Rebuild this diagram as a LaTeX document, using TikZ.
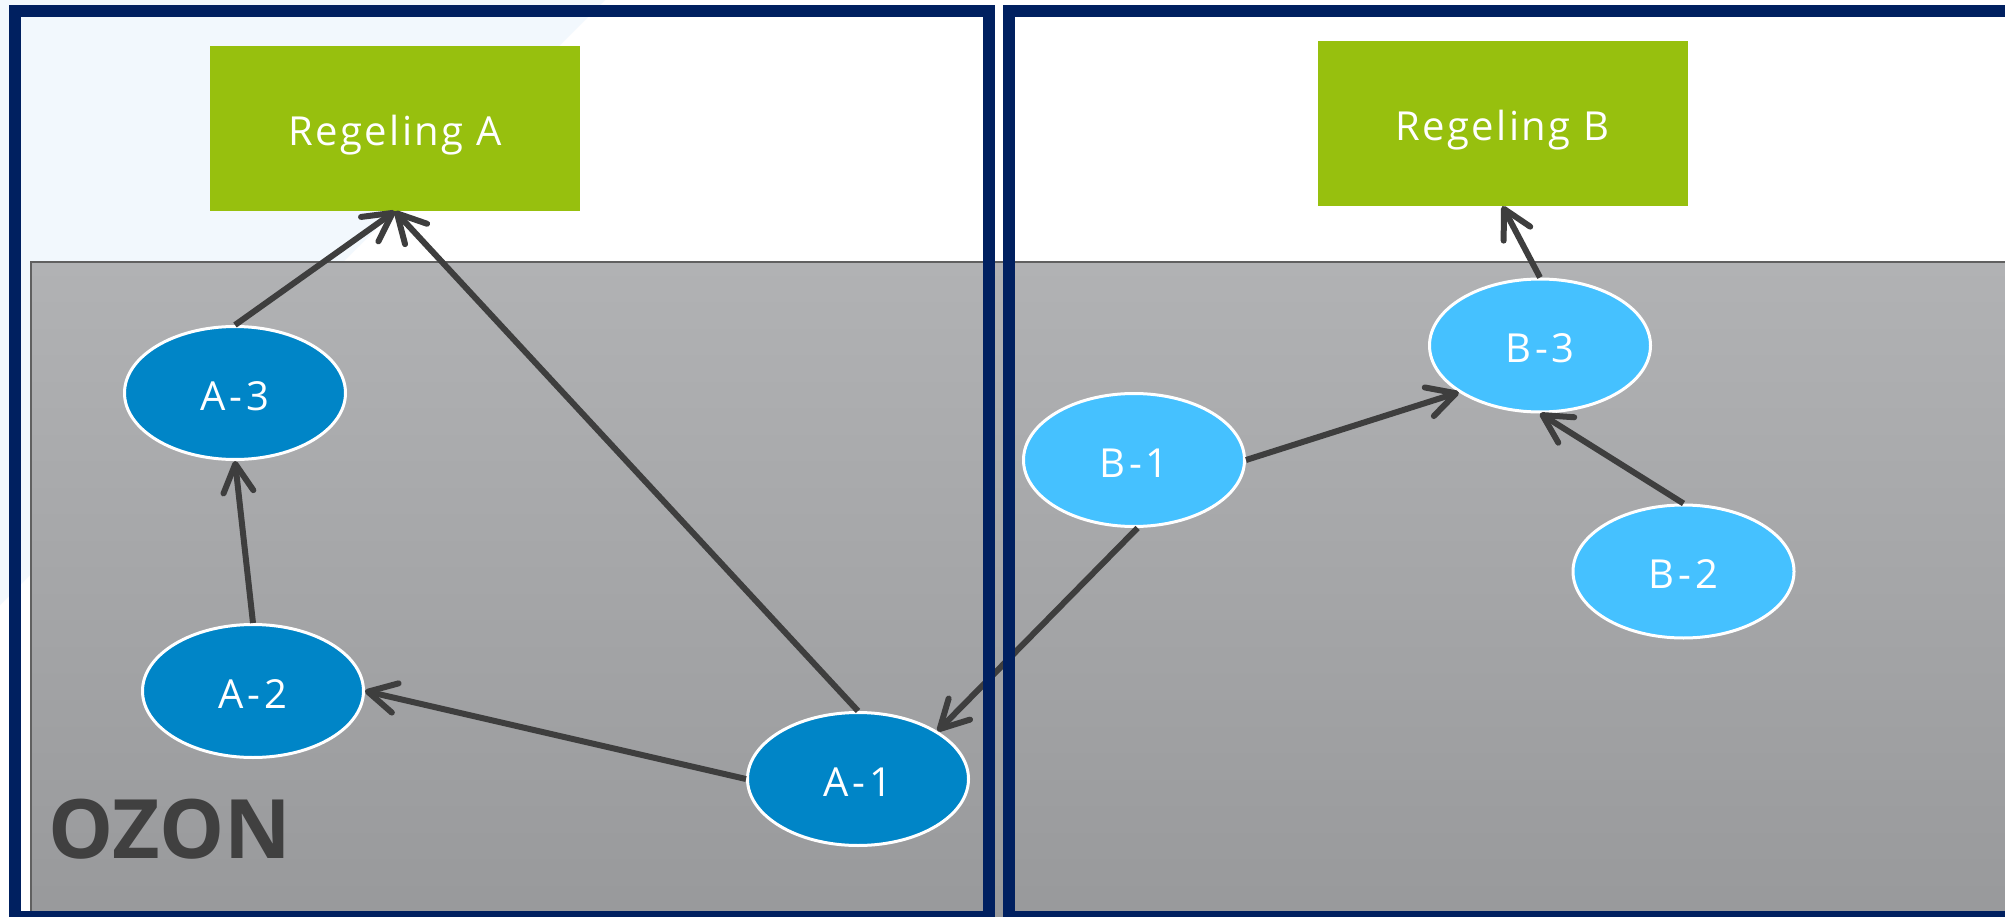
\documentclass[tikz,border=0pt]{standalone}
\usepackage{fontspec}
\setmainfont{Open Sans}
\newfontfamily\boxfont[LetterSpace=6]{Open Sans}
\newfontfamily\ellfont[LetterSpace=10]{Open Sans}
\usetikzlibrary{arrows.meta,shapes.geometric}
\definecolor{navy}{RGB}{0,32,96}
\definecolor{regelgreen}{RGB}{151,192,14}
\definecolor{darkblue}{RGB}{0,133,199}
\definecolor{lightblue}{RGB}{69,193,255}
\definecolor{arrowc}{RGB}{62,62,62}
\definecolor{graytop}{RGB}{177,178,180}
\definecolor{graybot}{RGB}{152,153,155}
\definecolor{tint}{RGB}{242,248,253}
\definecolor{ozonc}{RGB}{64,64,64}
\begin{document}
\begin{tikzpicture}[x=1pt,y=-1pt,
  regbox/.style={rectangle, fill=regelgreen, inner sep=0pt, minimum width=370pt, minimum height=165pt,
    text=white, font=\boxfont\fontsize{40}{48}\selectfont, text height=34pt, text depth=0pt},
  anode/.style={ellipse, fill=darkblue, draw=white, line width=3pt, inner sep=0pt,
    minimum width=221pt, minimum height=133pt, text=white, font=\ellfont\fontsize{40}{48}\selectfont,
    text height=34pt, text depth=0pt},
  bnode/.style={anode, fill=lightblue},
  arr/.style={draw=arrowc, line width=6pt, -{Straight Barb[length=28pt,width=30pt,round]}},
  frame/.style={draw=navy, line width=12pt}]
\useasboundingbox (0,0) rectangle (2005,917);
\clip (0,0) rectangle (2005,917);
\fill[white] (0,0) rectangle (2005,917);
\fill[tint] (0,0) -- (605,0) -- (0,605) -- cycle;
\shade[top color=graytop, bottom color=graybot] (31,262) rectangle (2010,925);
\draw[gray!75!black, line width=1.5pt] (31,925) -- (31,262) -- (2010,262);
% rules
\node[regbox] (RA) at (395,128.5) {Regeling A};
\node[regbox] (RB) at (1502.5,123.5) {Regeling B};
% A nodes
\node[anode] (A3) at (235,393) {A-3};
\node[anode] (A2) at (253,691) {A-2};
\node[anode] (A1) at (858,779) {A-1};
% B nodes
\node[bnode] (B3) at (1540,345.5) {B-3};
\node[bnode] (B1) at (1134,460) {B-1};
\node[bnode] (B2) at (1683.5,571.5) {B-2};
% connectors
\draw[arr] (A3.north) -- (RA.south);
\draw[arr] (A1.north) -- (RA.south);
\draw[arr] (A2.north) -- (A3.south);
\draw[arr] (A1.west) -- (A2.east);
\draw[arr] (B1.-87) -- (A1.31);
\draw[arr] (B1.east) -- (B3.210);
\draw[arr] (B2.north) -- (B3.south);
\draw[arr] (B3.north) -- (RB.south);
% frames
\draw[frame] (15,11) rectangle (989,917);
\draw[frame] (1009,11) rectangle (2030,917);
% OZON label
\node[anchor=base west, inner sep=0pt, text=ozonc, font=\fontsize{82}{96}\selectfont\bfseries] (ozon) at (48,858) {OZON};
\end{tikzpicture}
\end{document}
